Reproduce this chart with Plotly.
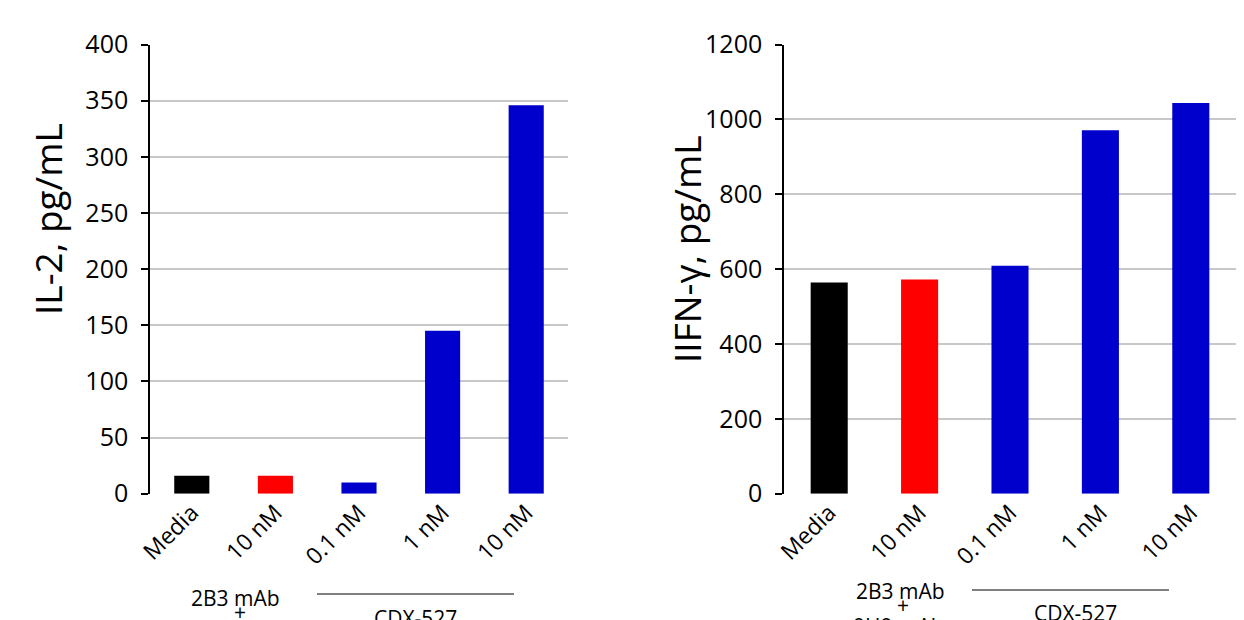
import plotly.graph_objects as go

# Treatment groups shared by both panels
groups = ["Media", "10 nM", "0.1 nM", "1 nM", "10 nM"]
bar_colors = ["#000000", "#ff0000", "#0000cc", "#0000cc", "#0000cc"]

# Cytokine readouts (pg/mL)
il2_values = [16, 16, 10, 145, 346]
ifng_values = [564, 572, 609, 971, 1044]

il2_ticks = [0, 50, 100, 150, 200, 250, 300, 350, 400]
ifng_ticks = [0, 200, 400, 600, 800, 1000, 1200]

FONT = "Open Sans, Noto Sans, sans-serif"
W, H = 1244, 620

def px(x):
    return x / W

def py(y):
    return 1 - y / H

fig = go.Figure()

# categorical positions so duplicate labels ("10 nM") stay distinct
pos = list(range(len(groups)))

fig.add_trace(go.Bar(x=pos, y=il2_values, marker=dict(color=bar_colors, line=dict(width=0)),
                     width=0.42, xaxis="x", yaxis="y", showlegend=False))
fig.add_trace(go.Bar(x=pos, y=ifng_values, marker=dict(color=bar_colors, line=dict(width=0)),
                     width=0.41, xaxis="x2", yaxis="y2", showlegend=False))

ydom = [py(493.7), py(44.5)]

common_x = dict(
    tickmode="array", tickvals=pos, ticktext=groups, tickangle=-45,
    tickfont=dict(family=FONT, size=23, color="#000"),
    range=[-0.5, len(groups) - 0.5], showgrid=False, zeroline=False,
    showline=False, ticks="", fixedrange=True, automargin=False,
)
common_y = dict(
    tickfont=dict(family=FONT, size=25, color="#000"),
    showgrid=True, gridcolor="#c8c8c8", gridwidth=2,
    showline=True, linecolor="#000", linewidth=1.5,
    ticks="outside", ticklen=7, tickcolor="#000", tickwidth=1.5,
    ticklabelstandoff=8,
    zeroline=False, tickmode="array", domain=ydom, automargin=False,
)

fig.update_layout(
    width=W, height=H,
    margin=dict(l=0, r=0, t=0, b=0),
    plot_bgcolor="white", paper_bgcolor="white",
    bargap=0.5,
    xaxis=dict(domain=[px(150), px(568)], anchor="y", **common_x),
    xaxis2=dict(domain=[px(784), px(1236)], anchor="y2", **common_x),
    yaxis=dict(anchor="x", range=[0, 400], tickvals=il2_ticks, **common_y),
    yaxis2=dict(anchor="x2", range=[0, 1200], tickvals=ifng_ticks, **common_y),
)

title_font = dict(family=FONT, size=37, color="#000")
fig.add_annotation(xref="paper", yref="paper", x=px(47), y=py(219), text="IL-2, pg/mL",
                   textangle=-90, showarrow=False, xanchor="center", yanchor="middle",
                   font=title_font)
fig.add_annotation(xref="paper", yref="paper", x=px(686), y=py(249), text="IIFN-γ, pg/mL",
                   textangle=-90, showarrow=False, xanchor="center", yanchor="middle",
                   font=title_font)

txt = dict(family=FONT, size=21, color="#000")

annotations = [
    # left panel group labels
    dict(x=px(235), y=py(598), text="2B3 mAb"),
    dict(x=px(240), y=py(612), text="+"),
    dict(x=px(415), y=py(618), text="CDX-527"),
    # right panel group labels
    dict(x=px(900), y=py(591), text="2B3 mAb"),
    dict(x=px(903), y=py(605), text="+"),
    dict(x=px(898), y=py(626), text="9H9 mAb"),
    dict(x=px(1075), y=py(613), text="CDX-527"),
]
for a in annotations:
    fig.add_annotation(xref="paper", yref="paper", showarrow=False,
                       xanchor="center", yanchor="middle", font=txt, **a)

# brackets over the CDX-527 doses
fig.add_shape(type="line", xref="paper", yref="paper",
              x0=px(317), x1=px(514), y0=py(594), y1=py(594),
              line=dict(color="#000", width=1))
fig.add_shape(type="line", xref="paper", yref="paper",
              x0=px(972), x1=px(1169), y0=py(590), y1=py(590),
              line=dict(color="#000", width=1))

fig.write_html("out.html")
